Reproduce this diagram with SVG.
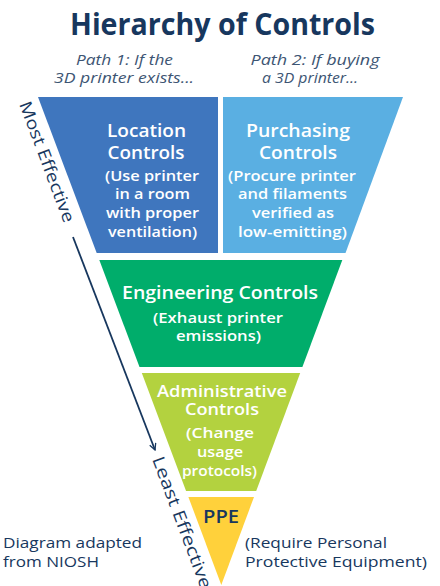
<svg xmlns="http://www.w3.org/2000/svg" width="440" height="586" viewBox="0 0 440 586">
<style>
text{font-family:"Open Sans","DejaVu Sans",sans-serif}
.title{font-size:30px;font-weight:700;fill:#17375e}
.path{font-size:14.5px;font-style:italic;fill:#3d5573}
.h{font-size:18px;font-weight:600;fill:#ffffff;text-anchor:middle}
.ha{font-size:17px;font-weight:600;fill:#ffffff;text-anchor:middle}
.d{font-size:14.5px;font-weight:600;fill:#ffffff;text-anchor:middle}
.n{font-size:15px;font-weight:500;fill:#17375e}
.ax{font-size:17px;font-weight:500;fill:#17375e}
</style>
<defs>
<marker id="ah" viewBox="0 0 10 10" refX="9" refY="5" markerWidth="8" markerHeight="8" orient="auto" markerUnits="userSpaceOnUse">
<path d="M1,1 L9,5 L1,9" fill="none" stroke="#17375e" stroke-width="1.6"/>
</marker>
</defs>
<rect width="440" height="586" fill="#ffffff"/>
<text class="title" x="222.5" y="35" text-anchor="middle" textLength="305" lengthAdjust="spacingAndGlyphs">Hierarchy of Controls</text>
<g id="path1">
<text class="path" x="124.5" y="65" text-anchor="middle" textLength="97" lengthAdjust="spacingAndGlyphs">Path 1: If the</text>
<text class="path" x="124" y="83" text-anchor="middle" textLength="140" lengthAdjust="spacingAndGlyphs">3D printer exists...</text>
</g>
<g id="path2">
<text class="path" x="315" y="65" text-anchor="middle" textLength="129" lengthAdjust="spacingAndGlyphs">Path 2: If buying</text>
<text class="path" x="310" y="83" text-anchor="middle" textLength="96" lengthAdjust="spacingAndGlyphs">a 3D printer...</text>
</g>
<g id="location">
<polygon points="38,97 218,97 218,253 96.7,253" fill="#3f76be"/>
<text class="h" x="146.5" y="137" textLength="79" lengthAdjust="spacingAndGlyphs">Location</text>
<text class="h" x="146" y="159" textLength="77" lengthAdjust="spacingAndGlyphs">Controls</text>
<text class="d" x="152" y="181" textLength="94" lengthAdjust="spacingAndGlyphs">(Use printer</text>
<text class="d" x="152.5" y="199" textLength="75" lengthAdjust="spacingAndGlyphs">in a room</text>
<text class="d" x="152.5" y="218" textLength="93" lengthAdjust="spacingAndGlyphs">with proper</text>
<text class="d" x="152.5" y="237" textLength="89" lengthAdjust="spacingAndGlyphs">ventilation)</text>
</g>
<g id="purchasing">
<polygon points="223,97 403,97 345.5,253 223,253" fill="#5aafe2"/>
<text class="h" x="298" y="137" textLength="104" lengthAdjust="spacingAndGlyphs">Purchasing</text>
<text class="h" x="298" y="159" textLength="78" lengthAdjust="spacingAndGlyphs">Controls</text>
<text class="d" x="292" y="181" textLength="128" lengthAdjust="spacingAndGlyphs">(Procure printer</text>
<text class="d" x="292.5" y="199" textLength="109" lengthAdjust="spacingAndGlyphs">and filaments</text>
<text class="d" x="293" y="218" textLength="82" lengthAdjust="spacingAndGlyphs">verified as</text>
<text class="d" x="292.5" y="237" textLength="109" lengthAdjust="spacingAndGlyphs">low-emitting)</text>
</g>
<g id="engineering">
<polygon points="99.3,260 342.3,260 302.4,367 139.5,367" fill="#00ad6b"/>
<text class="h" x="220" y="299" textLength="196" lengthAdjust="spacingAndGlyphs">Engineering Controls</text>
<text class="d" x="218" y="323" textLength="130" lengthAdjust="spacingAndGlyphs">(Exhaust printer</text>
<text class="d" x="218.5" y="341" textLength="85" lengthAdjust="spacingAndGlyphs">emissions)</text>
</g>
<g id="administrative">
<polygon points="141.8,373 300.2,373 256.2,491 186.1,491" fill="#b3d23f"/>
<text class="ha" x="222" y="397" textLength="130" lengthAdjust="spacingAndGlyphs">Administrative</text>
<text class="ha" x="222" y="415" textLength="74" lengthAdjust="spacingAndGlyphs">Controls</text>
<text class="d" x="220" y="438" textLength="68" lengthAdjust="spacingAndGlyphs">(Change</text>
<text class="d" x="220" y="457" textLength="46" lengthAdjust="spacingAndGlyphs">usage</text>
<text class="d" x="219.5" y="476" textLength="75" lengthAdjust="spacingAndGlyphs">protocols)</text>
</g>
<g id="ppe">
<polygon points="188.4,497 254,497 221.3,585" fill="#ffd13b"/>
<text x="221" y="523" text-anchor="middle" font-size="18" font-weight="600" fill="#17375e" textLength="36" lengthAdjust="spacingAndGlyphs">PPE</text>
</g>
<g id="ppe-note">
<text class="n" x="245" y="548" textLength="142" lengthAdjust="spacingAndGlyphs">(Require Personal</text>
<text class="n" x="245" y="567" textLength="182" lengthAdjust="spacingAndGlyphs">Protective Equipment)</text>
</g>
<g id="source">
<text class="n" x="3" y="548" textLength="139" lengthAdjust="spacingAndGlyphs">Diagram adapted</text>
<text class="n" x="3" y="567" textLength="96" lengthAdjust="spacingAndGlyphs">from NIOSH</text>
</g>
<g id="connectors">
<line x1="73" y1="237" x2="155" y2="450" stroke="#17375e" stroke-width="1.8" marker-end="url(#ah)"/>
</g>
<g id="axis-labels">
<text class="ax" transform="translate(19,104) rotate(69.4)" textLength="128" lengthAdjust="spacingAndGlyphs">Most Effective</text>
<text class="ax" transform="translate(152,459) rotate(69.4)" textLength="140" lengthAdjust="spacingAndGlyphs">Least Effective</text>
</g>
</svg>
